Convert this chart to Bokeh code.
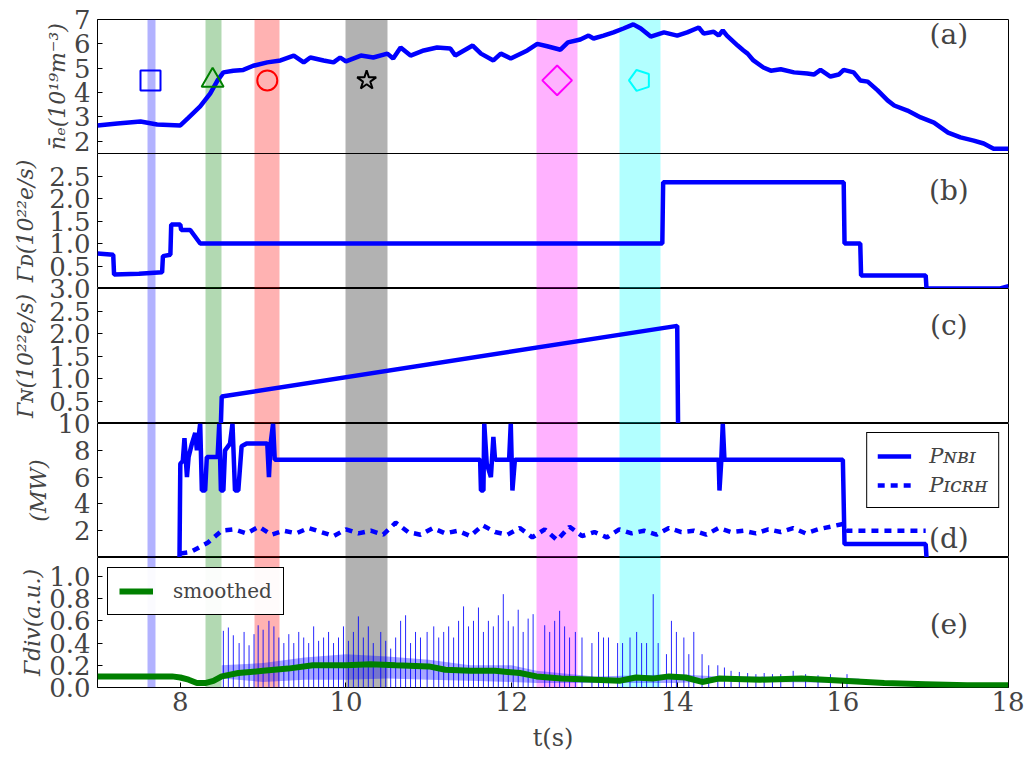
import numpy as np
from bokeh.plotting import figure
from bokeh.layouts import column
from bokeh.models import (Range1d, FixedTicker, PrintfTickFormatter,
                          Label, Legend, LegendItem, ColumnDataSource)
from bokeh.embed import file_html
from bokeh.resources import INLINE

# ---------------- data ----------------
band_start = [7.6, 8.3, 8.9, 10.0, 12.3, 13.3]
band_end = [7.7, 8.5, 9.2, 10.5, 12.8, 13.8]
band_colors = ["blue", "green", "red", "black", "magenta", "cyan"]

mark_t = [7.64, 8.39, 9.05, 10.25, 12.55]
mark_y = [4.5, 4.5, 4.5, 4.5, 4.5]
mark_type = ["square", "triangle", "circle", "star", "square"]
mark_color = ["blue", "green", "red", "black", "magenta"]
pent_t = [13.55]
pent_y = [4.5]

# (a) line-averaged density
ne_t = [7.0, 7.24, 7.52, 7.72, 8.0, 8.09, 8.24, 8.36, 8.45, 8.52, 8.64, 8.76, 8.88, 9.05,
        9.21, 9.37, 9.49, 9.57, 9.73, 9.85, 9.93, 10.0, 10.18, 10.33, 10.5, 10.57, 10.66,
        10.78, 10.94, 11.1, 11.26, 11.32, 11.53, 11.63, 11.78, 11.87, 11.99, 12.19, 12.31,
        12.43, 12.59, 12.68, 12.83, 12.93, 12.99, 13.11, 13.23, 13.35, 13.47, 13.56, 13.68,
        13.84, 14.0, 14.12, 14.26, 14.32, 14.44, 14.5, 14.55, 14.6, 14.73, 14.8, 14.85,
        14.92, 15.04, 15.13, 15.25, 15.41, 15.57, 15.65, 15.73, 15.85, 15.95, 16.01, 16.13,
        16.21, 16.3, 16.42, 16.54, 16.62, 16.78, 16.94, 17.1, 17.27, 17.42, 17.58, 17.7,
        17.82, 18.0]
ne_v = [2.65, 2.73, 2.81, 2.69, 2.65, 2.94, 3.43, 3.96, 4.5, 4.83, 4.9, 4.93, 5.1, 5.24,
        5.32, 5.52, 5.24, 5.44, 5.32, 5.24, 5.44, 5.28, 5.52, 5.44, 5.6, 5.4, 5.85,
        5.52, 5.73, 5.85, 5.81, 5.52, 5.93, 5.6, 5.32, 5.6, 5.4, 5.73, 6.0,
        5.9, 5.76, 6.06, 6.18, 6.34, 6.22, 6.34, 6.47, 6.63, 6.8, 6.63, 6.3,
        6.47, 6.34, 6.47, 6.67, 6.42, 6.5, 6.34, 6.55, 6.34, 5.93, 5.73, 5.6,
        5.32, 5.03, 4.9, 4.96, 4.83, 4.78, 4.74, 4.93, 4.66, 4.74, 4.93, 4.83,
        4.5, 4.45, 4.09, 3.68, 3.47, 3.26, 2.98, 2.77, 2.36, 2.16, 2.03, 1.91,
        1.7, 1.7]

# (b) D2 fuelling
gd_t = [7.0, 7.19, 7.2, 7.5, 7.78, 7.79, 7.88, 7.89, 8.0, 8.01, 8.12, 8.18, 8.24, 13.82,
        13.83, 16.01, 16.02, 16.21, 16.22, 17.0, 17.01, 17.9, 18.0]
gd_v = [0.78, 0.75, 0.31, 0.33, 0.36, 0.72, 0.75, 1.42, 1.42, 1.30, 1.30, 1.15, 1.0, 1.0,
        2.36, 2.36, 1.0, 1.0, 0.29, 0.29, 0.0, 0.0, 0.05]

# (c) N2 seeding
gn_t = [8.49, 8.5, 14.0, 14.01]
gn_v = [0.0, 0.6, 2.17, 0.0]

# (d) heating power
nbi_t = [7.99, 8.0, 8.03, 8.05, 8.08, 8.1, 8.14, 8.18, 8.2, 8.24, 8.26, 8.3, 8.32, 8.45,
         8.47, 8.49, 8.52, 8.54, 8.6, 8.63, 8.66, 8.7, 8.74, 8.8, 9.05, 9.07, 9.09, 9.12,
         9.14, 11.62, 11.63, 11.66, 11.67, 11.7, 11.75, 11.78, 11.8, 11.97, 11.99, 12.01,
         12.04, 14.5, 14.51, 14.53, 14.55, 14.57, 16.0, 16.02, 17.0, 17.01]
nbi_p = [0.0, 7.0, 7.2, 8.9, 6.0, 7.5, 8.5, 9.3, 8.0, 10.0, 5.0, 5.0, 7.5, 7.5,
         10.0, 5.0, 5.0, 8.0, 8.5, 10.0, 5.0, 5.0, 8.3, 8.5, 8.5, 6.0, 8.5, 10.0,
         7.3, 7.3, 5.0, 5.0, 10.0, 7.0, 6.0, 9.0, 7.3, 7.3, 10.0, 5.0,
         7.3, 7.3, 5.0, 7.0, 10.0, 7.3, 7.3, 1.0, 1.0, 0.0]
icrh_t = [8.0, 8.12, 8.33, 8.5, 8.65, 8.8, 8.95, 9.1, 9.25, 9.4, 9.55, 9.7, 9.85, 10.0,
          10.15, 10.3, 10.45, 10.6, 10.75, 10.9, 11.05, 11.2, 11.35, 11.5, 11.65, 11.8,
          11.95, 12.1, 12.25, 12.4, 12.55, 12.7, 12.85, 13.0, 13.15, 13.3, 13.45, 13.6,
          13.75, 13.9, 14.05, 14.2, 14.35, 14.5, 14.65, 14.8, 14.95, 15.1, 15.25, 15.4,
          15.55, 15.7, 15.85, 16.0, 16.05, 17.0]
icrh_p = [0.3, 0.4, 1.1, 2.0, 2.1, 1.8, 2.3, 1.7, 2.0, 1.8, 2.2, 1.9, 1.6, 2.1,
          1.8, 2.0, 1.7, 2.6, 1.9, 1.7, 2.2, 1.8, 2.0, 1.6, 2.4, 1.9,
          1.7, 2.2, 1.5, 2.1, 1.3, 2.3, 1.6, 1.9, 1.5, 2.1, 1.8, 2.0,
          1.7, 2.2, 1.9, 2.0, 1.7, 2.2, 1.9, 2.0, 1.8, 2.1, 1.9, 2.2,
          1.8, 2.1, 2.3, 2.5, 2.0, 2.0]

# (e) divertor flux: ELM spikes, background band and smoothed trace
elm_t = [8.52, 8.58, 8.64, 8.71, 8.77, 8.83, 8.89, 8.94, 9.0, 9.07, 9.13, 9.19, 9.25, 9.31,
         9.37, 9.43, 9.49, 9.55, 9.61, 9.67, 9.73, 9.79, 9.85, 9.91, 9.97, 10.03, 10.09,
         10.15, 10.21, 10.27, 10.33, 10.42, 10.48, 10.54, 10.6, 10.66, 10.72, 10.78, 10.84,
         10.9, 10.98, 11.06, 11.12, 11.18, 11.24, 11.3, 11.36, 11.42, 11.48, 11.54, 11.6,
         11.66, 11.72, 11.78, 11.84, 11.9, 11.96, 12.02, 12.08, 12.14, 12.2, 12.26, 12.4,
         12.46, 12.52, 12.58, 12.64, 12.7, 12.77, 12.85, 12.97, 13.05, 13.11, 13.17, 13.28,
         13.34, 13.43, 13.51, 13.57, 13.63, 13.71, 13.77, 13.87, 13.93, 13.99, 14.08, 14.14,
         14.2, 14.3, 14.38, 14.49, 14.57, 14.65, 14.75, 14.85, 14.95, 15.05, 15.15, 15.25,
         15.4, 15.55, 15.7, 15.85, 16.05]
elm_h = [0.51, 0.54, 0.47, 0.40, 0.50, 0.38, 0.48, 0.56, 0.52, 0.60, 0.55, 0.45, 0.40, 0.48,
         0.40, 0.50, 0.45, 0.40, 0.55, 0.42, 0.45, 0.50, 0.40, 0.45, 0.55, 0.42, 0.50,
         0.64, 0.45, 0.55, 0.40, 0.50, 0.42, 0.35, 0.45, 0.60, 0.65, 0.40, 0.50,
         0.45, 0.50, 0.55, 0.45, 0.50, 0.55, 0.45, 0.60, 0.73, 0.55, 0.60, 0.72,
         0.50, 0.60, 0.55, 0.65, 0.84, 0.60, 0.55, 0.70, 0.50, 0.62, 0.66, 0.56,
         0.50, 0.60, 0.69, 0.55, 0.45, 0.50, 0.45, 0.40, 0.50, 0.45, 0.45, 0.40,
         0.40, 0.45, 0.50, 0.40, 0.40, 0.84, 0.40, 0.30, 0.60, 0.50, 0.45, 0.30,
         0.50, 0.30, 0.20, 0.20, 0.18, 0.15, 0.14, 0.13, 0.12, 0.13, 0.12, 0.12,
         0.15, 0.12, 0.11, 0.12, 0.12]
bg_t = [8.5, 9.0, 9.5, 10.0, 10.5, 11.0, 11.5, 12.0, 12.3, 13.0, 14.0, 14.5, 15.0, 16.2]
bg_lo = [0.08, 0.05, 0.07, 0.07, 0.08, 0.07, 0.06, 0.05, 0.04, 0.04, 0.04, 0.06, 0.05, 0.04]
bg_hi = [0.20, 0.22, 0.27, 0.30, 0.28, 0.25, 0.20, 0.20, 0.15, 0.10, 0.12, 0.10, 0.10, 0.08]
sm_t = [7.0, 7.5, 7.9, 8.0, 8.1, 8.2, 8.3, 8.4, 8.5, 8.7, 9.0, 9.3, 9.6, 10.0, 10.3, 10.6,
        11.0, 11.2, 11.5, 11.8, 12.1, 12.3, 12.6, 13.0, 13.3, 13.5, 13.7, 13.9, 14.1, 14.3,
        14.5, 15.0, 15.5, 16.0, 16.5, 17.0, 17.5, 18.0]
sm_v = [0.10, 0.10, 0.10, 0.09, 0.07, 0.04, 0.04, 0.06, 0.10, 0.13, 0.15, 0.17, 0.20, 0.20,
        0.21, 0.20, 0.19, 0.16, 0.15, 0.15, 0.13, 0.10, 0.08, 0.07, 0.06, 0.09, 0.08, 0.10,
        0.09, 0.05, 0.08, 0.07, 0.08, 0.06, 0.04, 0.03, 0.02, 0.02]

x_ticks = [8, 10, 12, 14, 16, 18]

# ---------------- styling ----------------
SERIF = "DejaVu Serif"
TICK_FS = "26px"
LAB_FS = "22px"
LEFT = 97
W = LEFT + 911 + 16
xr = Range1d(7, 18)


def panel(frame_h, top, bottom, ylim, yticks, fmt, ylabel, standoff, xaxis=False):
    p = figure(width=W, height=top + frame_h + bottom, x_range=xr, y_range=Range1d(*ylim),
               output_backend="svg", toolbar_location=None,
               x_axis_location="below" if xaxis else None,
               min_border_left=LEFT, min_border_right=16,
               min_border_top=top, min_border_bottom=bottom)
    p.grid.visible = False
    p.outline_line_color = "black"
    p.outline_line_width = 1
    p.border_fill_color = None
    p.background_fill_color = "white"
    if top:
        p.margin = (-top, 0, 0, 0)
    ax = p.yaxis[0]
    ax.ticker = FixedTicker(ticks=yticks)
    ax.formatter = PrintfTickFormatter(format=fmt)
    ax.major_label_text_font = SERIF
    ax.major_label_text_font_size = TICK_FS
    ax.major_label_standoff = 7
    ax.major_tick_in = 5
    ax.major_tick_out = 0
    ax.minor_tick_line_color = None
    ax.axis_line_color = None
    ax.axis_label = ylabel
    ax.axis_label_text_font = SERIF
    ax.axis_label_text_font_size = LAB_FS
    ax.axis_label_text_font_style = "italic"
    ax.axis_label_standoff = standoff
    p.vstrip(x0=band_start, x1=band_end, fill_color=band_colors, fill_alpha=0.3,
             line_color=None)
    return p


def tag(p, y, text):
    p.add_layout(Label(x=17.28, y=y, text=text, text_font=SERIF, text_font_size="28px",
                       text_align="center", text_baseline="middle"))


# (a)  -- first panel: 19px above the frame, 8px below it (overlapped by panel b)
p1 = panel(134, 19, 8, (1.5, 7.0), [2, 3, 4, 5, 6, 7], "%d", "n̄ₑ(10¹⁹m⁻³)", 1)
p1.margin = (0, 0, 0, 0)
p1.yaxis[0].axis_label_text_font_size = "22px"
p1.line(ne_t, ne_v, line_color="blue", line_width=4.5)
src_m = ColumnDataSource(dict(x=mark_t, y=mark_y, m=mark_type, c=mark_color,
                              s=[20, 22, 20, 20, 21], a=[0, 0, 0, 0, np.pi / 4]))
p1.scatter(x="x", y="y", marker="m", size="s", angle="a", line_color="c",
           fill_color=None, line_width=2, source=src_m)
try:
    p1.ngon(x=pent_t, y=pent_y, radius=11, radius_units="screen", n=5,
            angle=np.pi / 2, fill_color=None, line_color="cyan", line_width=2)
except Exception:
    p1.scatter(x=pent_t, y=pent_y, marker="hex", size=20, fill_color=None,
               line_color="cyan", line_width=2)
tag(p1, 6.38, "(a)")

# (b)
p2 = panel(135, 0, 0, (0.0, 3.0), [0.5, 1.0, 1.5, 2.0, 2.5], "%.1f", "Γᴅ(10²²e/s)", 8)
p2.margin = (-8, 0, 0, 0)
p2.line(gd_t, gd_v, line_color="blue", line_width=4.5)
tag(p2, 2.18, "(b)")

# (c)
p3 = panel(135, 14, 0, (0.0, 3.0), [0.5, 1.0, 1.5, 2.0, 2.5, 3.0], "%.1f",
           "Γɴ(10²²e/s)", 8)
p3.line(gn_t, gn_v, line_color="blue", line_width=4.5)
tag(p3, 2.18, "(c)")

# (d)
p4 = panel(134, 14, 0, (0.0, 10.0), [2, 4, 6, 8, 10], "%d", "(MW)", 3)
r_nbi = p4.line(nbi_t, nbi_p, line_color="blue", line_width=4.5)
r_icrh = p4.line(icrh_t, icrh_p, line_color="blue", line_width=4.5, line_dash="7 6")
leg4 = Legend(items=[LegendItem(label="Pɴʙɪ", renderers=[r_nbi]),
                     LegendItem(label="Pɪᴄʀʜ", renderers=[r_icrh])],
              location="top_right", label_text_font=SERIF, label_text_font_style="italic",
              label_text_font_size="21px", border_line_color="black", border_line_alpha=1,
              glyph_width=34, label_height=25, spacing=4, padding=10, margin=9,
              label_standoff=18)
p4.add_layout(leg4)
tag(p4, 1.4, "(d)")

# (e)
p5 = panel(135, 0, 62, (0.0, 1.17), [0.0, 0.2, 0.4, 0.6, 0.8, 1.0], "%.1f", "Γdiv(a.u.)",
           1, xaxis=True)
p5.varea(x=bg_t, y1=bg_lo, y2=bg_hi, fill_color="blue", fill_alpha=0.35)
p5.segment(x0=elm_t, y0=0, x1=elm_t, y1=elm_h, line_color="blue", line_width=1,
           line_alpha=0.85)
r_sm = p5.line(sm_t, sm_v, line_color="green", line_width=6)
leg5 = Legend(items=[LegendItem(label="smoothed", renderers=[r_sm])],
              location="top_left", label_text_font=SERIF, label_text_font_size="20px",
              border_line_color="black", border_line_alpha=1, glyph_width=34,
              padding=11, margin=10, label_standoff=20)
p5.add_layout(leg5)
tag(p5, 0.565, "(e)")
xa = p5.xaxis[0]
xa.ticker = FixedTicker(ticks=x_ticks)
xa.major_label_text_font = SERIF
xa.major_label_text_font_size = TICK_FS
xa.major_label_standoff = 4
xa.major_tick_in = 5
xa.major_tick_out = 0
xa.minor_tick_line_color = None
xa.axis_line_color = None
xa.axis_label = "t(s)"
xa.axis_label_text_font = SERIF
xa.axis_label_text_font_size = "24px"
xa.axis_label_text_font_style = "normal"
xa.axis_label_standoff = 10

layout = column(p1, p2, p3, p4, p5, spacing=0)
open("out.html", "w").write(file_html(layout, INLINE))
